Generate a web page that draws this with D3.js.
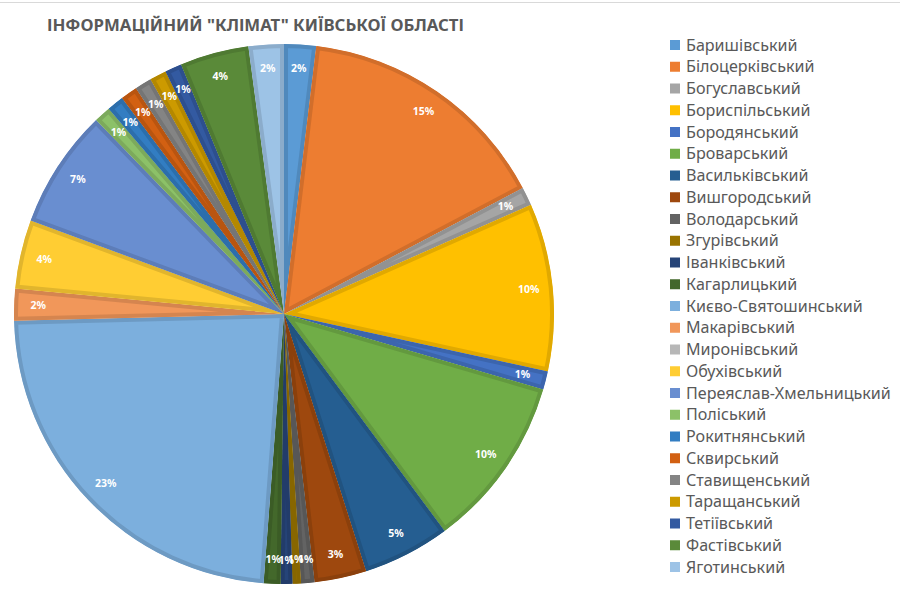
<!DOCTYPE html>
<html>
<head>
<meta charset="utf-8">
<script src="https://cdn.jsdelivr.net/npm/d3@7"></script>
<style>
  body { margin: 0; background: #fff; }
  svg text { font-family: "Noto Sans", "Open Sans", sans-serif; }
</style>
</head>
<body>
<svg width="900" height="592"></svg>
<script>
const districts = ["Баришівський", "Білоцерківський", "Богуславський", "Бориспільський", "Бородянський",
    "Броварський", "Васильківський", "Вишгородський", "Володарський", "Згурівський", "Іванківський",
    "Кагарлицький", "Києво-Святошинський", "Макарівський", "Миронівський", "Обухівський",
    "Переяслав-Хмельницький", "Поліський", "Рокитнянський", "Сквирський", "Ставищенський",
    "Таращанський", "Тетіївський", "Фастівський", "Яготинський"];
const shares = [1.9, 15.3, 1.1, 10.0, 1.1, 10.3, 5.2, 3.1, 0.8, 0.5, 0.7, 1.0, 23.3, 1.9, 0,
    4.1, 7.1, 1.0, 1.0, 1.0, 1.0, 1.0, 1.0, 4.1, 2.1];
const palette = ["#5B9BD5", "#ED7D31", "#A5A5A5", "#FFC000", "#4472C4", "#70AD47", "#255E91",
    "#9E480E", "#636363", "#997300", "#264478", "#43682B", "#7CAFDD", "#F1975A", "#B7B7B7",
    "#FFCD33", "#698ED0", "#8CC168", "#327DC2", "#D26012", "#848484", "#CC9A00", "#335AA1",
    "#5A8A39", "#9DC3E6"];
const chartTitle = 'ІНФОРМАЦІЙНИЙ "КЛІМАТ" КИЇВСЬКОЇ ОБЛАСТІ';

const svg = d3.select("svg");
const cx = 284, cy = 314, R = 270;

// top frame line
svg.append("line")
    .attr("x1", 0).attr("x2", 900).attr("y1", 2.5).attr("y2", 2.5)
    .attr("stroke", "#d9d9d9").attr("stroke-width", 1);

svg.append("text")
    .attr("x", 47).attr("y", 31)
    .attr("font-size", 16.8).attr("font-weight", "bold")
    .attr("fill", "#595959")
    .text(chartTitle);

const color = d3.scaleOrdinal().domain(districts).range(palette);
const total = d3.sum(shares);
const rows = districts.map((d, i) => ({name: d, value: shares[i]}));

const pie = d3.pie().value(d => d.value).sort(null);
const arc = d3.arc().innerRadius(0).outerRadius(R);
const labelArc = d3.arc().innerRadius(246).outerRadius(246);
const arcs = pie(rows);

const g = svg.append("g").attr("transform", `translate(${cx},${cy})`);
const defs = svg.append("defs");

defs.selectAll("clipPath")
    .data(arcs)
    .join("clipPath")
    .attr("id", (d, i) => "clip" + i)
    .append("path")
    .attr("d", arc);

// slice with a darker inner border
g.selectAll("path.slice")
    .data(arcs.filter(d => d.data.value > 0))
    .join("path")
    .classed("slice", true)
    .attr("d", arc)
    .attr("clip-path", d => `url(#clip${d.index})`)
    .attr("fill", d => color(d.data.name))
    .attr("stroke", d => d3.color(color(d.data.name)).darker(0.35))
    .attr("stroke-width", 8)
    .attr("stroke-linejoin", "round");

g.selectAll("text.lbl")
    .data(arcs.filter(d => d.data.value > 0))
    .join("text")
    .classed("lbl", true)
    .attr("transform", d => `translate(${labelArc.centroid(d)})`)
    .attr("text-anchor", "middle")
    .attr("dy", "0.35em")
    .attr("font-size", 10.5)
    .attr("font-weight", "bold")
    .attr("fill", "#fff")
    .text(d => Math.round(d.data.value / total * 100) + "%");

// legend
const legend = svg.append("g").attr("transform", "translate(670,45)");
const item = legend.selectAll("g")
    .data(districts)
    .join("g")
    .attr("transform", (d, i) => `translate(0,${i * 21.75})`);
item.append("rect")
    .attr("x", 0).attr("y", -5)
    .attr("width", 10).attr("height", 10)
    .attr("fill", d => color(d));
item.append("text")
    .attr("x", 16).attr("dy", "0.35em")
    .attr("font-size", 16.1)
    .attr("fill", "#595959")
    .text(d => d);
</script>
</body>
</html>
